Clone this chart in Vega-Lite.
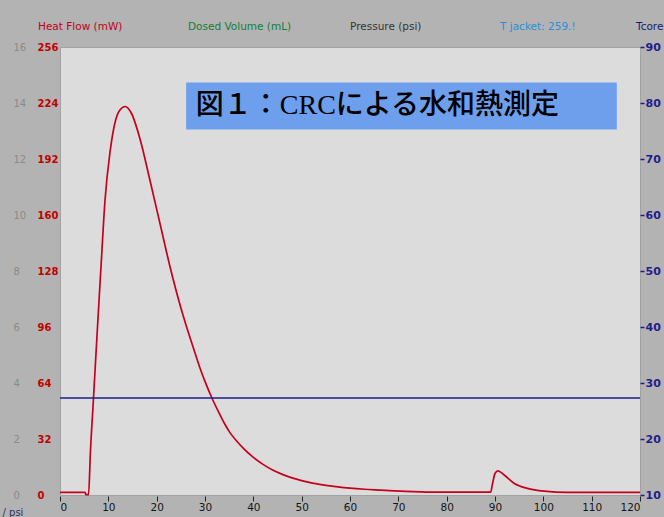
{
  "$schema": "https://vega.github.io/schema/vega-lite/v6.json",
  "width": 580,
  "height": 448,
  "autosize": {"type": "none"},
  "padding": {"left": 60, "top": 47, "right": 24, "bottom": 22},
  "background": "#b3b3b3",
  "config": {
    "view": {"fill": "#dcdcdc", "stroke": "#a2a2a2", "strokeWidth": 1},
    "font": "DejaVu Sans",
    "axis": {"grid": false, "domain": false, "labelFont": "DejaVu Sans", "titleFont": "DejaVu Sans"}
  },
  "datasets": {
    "heatflow": [
      {"time": 0, "hf": 1.5}, {"time": 5.2, "hf": 1.5}, {"time": 5.35, "hf": 0.2}, {"time": 5.9, "hf": 0.2},
      {"time": 6.3, "hf": 25}, {"time": 6.9, "hf": 54}, {"time": 7.8, "hf": 98}, {"time": 8.6, "hf": 136},
      {"time": 9.3, "hf": 168}, {"time": 10.4, "hf": 197}, {"time": 11.4, "hf": 213}, {"time": 12.4, "hf": 220},
      {"time": 13.5, "hf": 222}, {"time": 14.8, "hf": 218}, {"time": 16.6, "hf": 203}, {"time": 18.6, "hf": 180},
      {"time": 20.7, "hf": 155}, {"time": 22.8, "hf": 130}, {"time": 24.9, "hf": 108}, {"time": 26.2, "hf": 96},
      {"time": 27.6, "hf": 84}, {"time": 28.9, "hf": 73}, {"time": 30.2, "hf": 63.5}, {"time": 31.5, "hf": 55},
      {"time": 32.8, "hf": 47.5}, {"time": 34, "hf": 41}, {"time": 35.2, "hf": 35.5}, {"time": 36.5, "hf": 31},
      {"time": 38, "hf": 26.5}, {"time": 40, "hf": 21.5}, {"time": 42, "hf": 17.5}, {"time": 44, "hf": 14.3},
      {"time": 46, "hf": 11.8}, {"time": 48, "hf": 9.8}, {"time": 50, "hf": 8.2}, {"time": 52.5, "hf": 6.6},
      {"time": 55, "hf": 5.5}, {"time": 57.5, "hf": 4.6}, {"time": 60, "hf": 3.9}, {"time": 63, "hf": 3.3},
      {"time": 66.5, "hf": 2.8}, {"time": 70.5, "hf": 2.2}, {"time": 76.7, "hf": 1.6}, {"time": 89.1, "hf": 1.6},
      {"time": 89.5, "hf": 6.6}, {"time": 90.0, "hf": 12.3}, {"time": 90.6, "hf": 13.8}, {"time": 91.9, "hf": 11.4},
      {"time": 94.0, "hf": 6.6}, {"time": 96.7, "hf": 3.8}, {"time": 100.2, "hf": 2.2}, {"time": 105, "hf": 1.5},
      {"time": 120, "hf": 1.5}
    ],
    "tcore": [
      {"time": 0, "tcore": 27.3}, {"time": 120, "tcore": 27.3}
    ],
    "header": [
      {"slot": 0, "label": "Heat Flow (mW)"},
      {"slot": 1, "label": "Dosed Volume (mL)"},
      {"slot": 2, "label": "Pressure (psi)"},
      {"slot": 3, "label": "T jacket: 259.!"},
      {"slot": 4, "label": "Tcore"}
    ],
    "note": [
      {"label": "図１：CRCによる水和熱測定"}
    ]
  },
  "layer": [
    {
      "layer": [
        {
          "data": {"name": "heatflow"},
          "mark": {"type": "line", "opacity": 0},
          "encoding": {
            "x": {"field": "time", "type": "quantitative", "scale": {"domain": [0, 120], "nice": false},
              "axis": {"title": null, "values": [0,10,20,30,40,50,60,70,80,90,100,110,120], "tickColor": "#222222", "tickSize": 5, "offset": 1, "labelPadding": 1, "labelColor": "#151515", "labelFontSize": 10.5}},
            "y": {"field": "hf", "type": "quantitative", "scale": {"domain": [0, 256], "nice": false},
              "axis": {"orient": "left", "values": [0,32,64,96,128,160,192,224,256], "labelExpr": "datum.value / 16", "ticks": false, "labelAlign": "left", "labelPadding": 47, "labelColor": "#8a8a8a", "labelFontSize": 10, "labelBaseline": "middle",
                "title": "/ psi", "titleAngle": 0, "titleX": -58, "titleY": 465, "titleAlign": "left", "titleBaseline": "middle", "titleFontWeight": "normal", "titleFontSize": 10, "titleColor": "#2e3358"}}
          }
        },
        {
          "data": {"name": "note"},
          "mark": {"type": "rect", "color": "#6d9fec"},
          "encoding": {
            "x": {"datum": 26.1, "type": "quantitative"},
            "x2": {"datum": 115.2},
            "y": {"datum": 235.7, "type": "quantitative", "axis": null, "scale": {"domain": [0, 256], "nice": false}},
            "y2": {"datum": 208.9}
          }
        },
        {
          "data": {"name": "note"},
          "mark": {"type": "text", "align": "left", "baseline": "middle", "font": "Liberation Serif, Noto Sans CJK JP", "fontSize": 28, "fontWeight": 500, "color": "#000000"},
          "encoding": {
            "x": {"datum": 28.1, "type": "quantitative"},
            "y": {"datum": 222.3, "type": "quantitative", "axis": null, "scale": {"domain": [0, 256], "nice": false}},
            "text": {"field": "label"}
          }
        },
        {
          "data": {"name": "heatflow"},
          "mark": {"type": "line", "color": "#c4001c", "strokeWidth": 1.7, "interpolate": "monotone"},
          "encoding": {
            "x": {"field": "time", "type": "quantitative", "scale": {"domain": [0, 120], "nice": false}},
            "y": {"field": "hf", "type": "quantitative", "scale": {"domain": [0, 256], "nice": false},
              "axis": {"orient": "left", "values": [0,32,64,96,128,160,192,224,256], "ticks": false, "labelAlign": "left", "labelPadding": 23, "labelColor": "#c00000", "labelFontSize": 10, "labelFontWeight": "bold", "labelBaseline": "middle", "title": null}}
          }
        }
      ],
      "resolve": {"axis": {"y": "independent"}}
    },
    {
      "data": {"name": "tcore"},
      "mark": {"type": "line", "color": "#1c1c8c", "strokeWidth": 1.5},
      "encoding": {
        "x": {"field": "time", "type": "quantitative", "scale": {"domain": [0, 120], "nice": false}, "axis": null},
        "y": {"field": "tcore", "type": "quantitative", "scale": {"domain": [10, 90], "nice": false},
          "axis": {"orient": "right", "values": [10,20,30,40,50,60,70,80,90], "title": null, "tickColor": "#1e1e8a", "tickSize": 4, "tickWidth": 1.5, "labelPadding": 1, "labelColor": "#1e1e8a", "labelFontSize": 11, "labelFontWeight": "bold", "labelBaseline": "middle"}}
      }
    },
    {
      "data": {"name": "header"},
      "mark": {"type": "text", "align": "left", "baseline": "middle", "fontSize": 10.5, "font": "DejaVu Sans"},
      "encoding": {
        "x": {"field": "slot", "type": "quantitative", "scale": {"domain": [0, 1, 2, 3, 4], "range": [-22, 128, 290, 440, 576]}, "axis": null},
        "y": {"value": -20},
        "text": {"field": "label"},
        "color": {"field": "label", "type": "nominal", "legend": null,
          "scale": {"domain": ["Heat Flow (mW)", "Dosed Volume (mL)", "Pressure (psi)", "T jacket: 259.!", "Tcore"],
                    "range": ["#c0001a", "#10803a", "#333333", "#2a8fd8", "#1a1a70"]}}
      }
    }
  ],
  "resolve": {"scale": {"x": "independent", "y": "independent"}}
}
